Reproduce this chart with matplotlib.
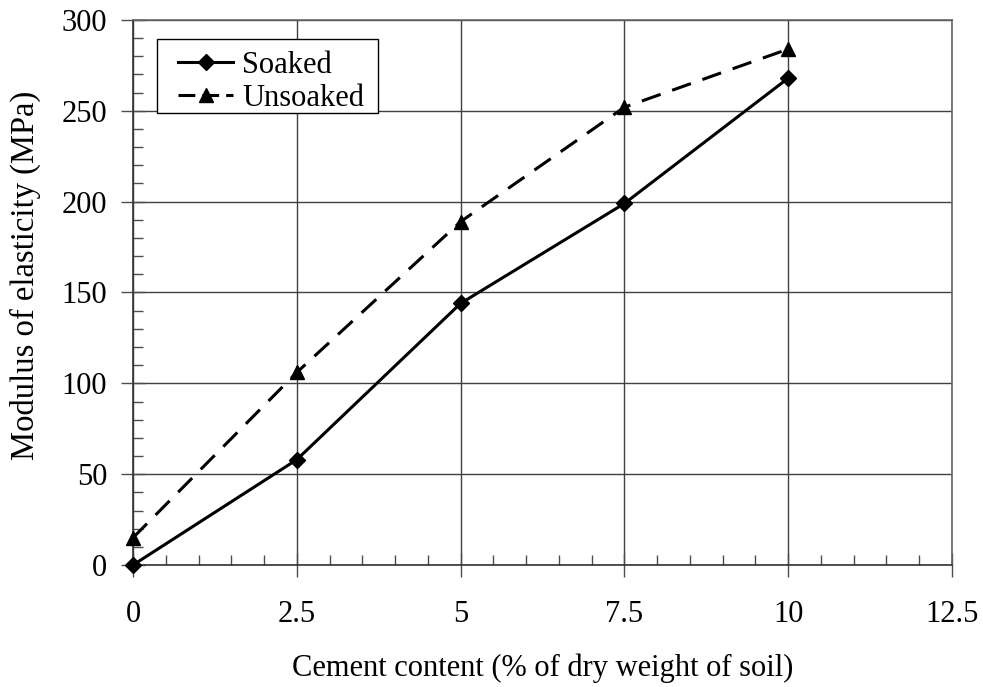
import matplotlib

matplotlib.use("Agg")
import matplotlib.pyplot as plt
from matplotlib.lines import Line2D
from matplotlib.patches import Rectangle
from matplotlib.ticker import MultipleLocator

cement = [0, 2.5, 5, 7.5, 10]
soaked = [0, 58, 144, 199, 268]
unsoaked = [15, 106, 189, 252, 284]

plt.rcParams["font.family"] = ["Liberation Serif", "DejaVu Serif"]
FS = 22
DASH = (0, (6.5, 4))

fig = plt.figure(figsize=(9.83, 6.87), dpi=100)
ax = fig.add_axes([133 / 983, 122 / 687, 819 / 983, 545 / 687])

ax.plot(cement, soaked, color="black", lw=2.2, marker="D", ms=8,
        zorder=4, clip_on=False)
ax.plot(cement, unsoaked, color="black", lw=2.2, ls=DASH, marker="^", ms=10,
        zorder=4, clip_on=False)

ax.set_xlim(0, 12.5)
ax.set_ylim(0, 300)
ax.xaxis.set_major_locator(MultipleLocator(2.5))
ax.xaxis.set_minor_locator(MultipleLocator(0.5))
ax.yaxis.set_major_locator(MultipleLocator(50))
ax.yaxis.set_minor_locator(MultipleLocator(10))
ax.xaxis.set_major_formatter(lambda v, p: f"{v:g}")

ax.tick_params(which="major", direction="inout", length=17, width=1,
               color="0.3", labelsize=FS)
ax.tick_params(which="minor", direction="in", length=7, width=1, color="0.3")
ax.tick_params(axis="x", which="major", pad=17)
ax.tick_params(axis="y", which="major", pad=10)

ax.grid(True, which="major", color="0.25", lw=1)
ax.set_axisbelow(True)
for side in ["top", "right"]:
    ax.spines[side].set_color("0.4")
for side in ["left", "bottom"]:
    ax.spines[side].set_color("0.2")
for s in ax.spines.values():
    s.set_linewidth(1.2)

ax.set_xlabel("Cement content (% of dry weight of soil)", fontsize=FS,
              labelpad=17)
ax.set_ylabel("Modulus of elasticity (MPa)", fontsize=23.5)
ax.yaxis.set_label_coords(-0.112, 0.532)

# legend box drawn on its own, entries placed inside it
ax.add_patch(Rectangle((24 / 819, 452 / 545), 221 / 819, 74 / 545,
                       transform=ax.transAxes, facecolor="white",
                       edgecolor="black", lw=1, zorder=5))
handles = [
    Line2D([], [], color="black", lw=2.2, marker="D", ms=8),
    Line2D([], [], color="black", lw=2.2, marker="^", ms=10,
           linestyle=(0, (5.5, 2.3))),
]
leg = ax.legend(handles, ["Soaked", "Unsoaked"], loc="upper left",
                bbox_to_anchor=(45 / 819, 0.944), borderaxespad=0,
                borderpad=0, fontsize=FS, frameon=False,
                handlelength=1.8, handletextpad=0.3, labelspacing=0.15)
leg.set_zorder(6)

fig.savefig("out.png", dpi=100)
